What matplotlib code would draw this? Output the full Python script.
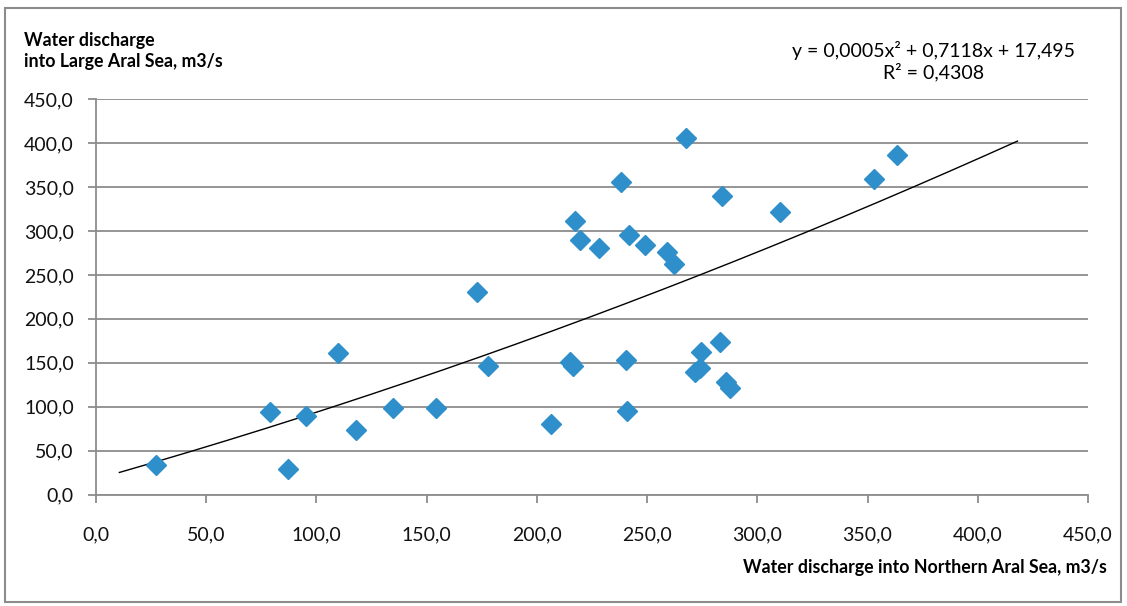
import numpy as np
import matplotlib.pyplot as plt
from matplotlib.patches import Rectangle

plt.rcParams['font.family'] = ['Lato', 'DejaVu Sans']

# discharge into Northern Aral Sea (x) and Large Aral Sea (y), m3/s
north = [27.1, 78.8, 87.0, 95.3, 110.0, 117.8, 134.9, 154.1,
         173.0, 217.3, 219.6, 228.2, 238.2, 242.0, 249.1, 258.9, 262.3, 267.8, 284.0,
         178.0, 206.3, 215.1, 216.6, 240.3, 240.8, 274.4, 271.8, 274.0, 283.1, 285.8, 287.7,
         310.3, 353.1, 363.3]
large = [33.6, 94.3, 28.7, 89.4, 160.8, 73.5, 98.9, 98.9,
         230.3, 311.8, 289.9, 281.1, 355.9, 295.2, 284.2, 276.6, 262.5, 405.7, 340.0,
         146.7, 80.3, 151.3, 146.7, 153.2, 95.5, 162.0, 139.9, 143.7, 173.3, 127.8, 121.0,
         321.4, 359.0, 386.7]

# polynomial trendline as printed on the chart
trend_coef = [0.0005, 0.7118, 17.495]
trend_range = [10.6, 418.0]

ticks = np.arange(0, 451, 50)
tick_labels = ['%.1f' % t for t in ticks]
tick_labels = [t.replace('.', ',') for t in tick_labels]

fig = plt.figure(figsize=(11.27, 6.06), dpi=100)
ax = fig.add_axes([96/1127, 1 - 494.5/606, 992/1127, 395.2/606])

grid_col = '#8c8c8c'
ax.set_xlim(0, 450)
ax.set_ylim(0, 450)
ax.set_yticks(ticks)
ax.set_yticklabels(tick_labels)
ax.set_xticks(ticks)
ax.set_xticklabels(tick_labels)
ax.yaxis.grid(True, color=grid_col, lw=1.3)
ax.set_axisbelow(True)
for s in ['top', 'right']:
    ax.spines[s].set_visible(False)
for s in ['left', 'bottom']:
    ax.spines[s].set_color(grid_col)
    ax.spines[s].set_linewidth(1.3)
ax.tick_params(axis='both', direction='out', length=6, width=1.3, color=grid_col,
               labelsize=14, labelcolor='#111111')
ax.tick_params(axis='x', pad=17)
ax.tick_params(axis='y', pad=10)

xt = np.linspace(trend_range[0], trend_range[1], 200)
ax.plot(xt, np.polyval(trend_coef, xt), color='black', lw=1.0, zorder=3)
ax.plot(north, large, ls='none', marker='D', ms=10, color='#2e8fca', zorder=4,
        clip_on=False)

fig.text(24/1127, 1 - 51/606, 'Water discharge\ninto Large Aral Sea, m3/s',
         fontsize=12.8, fontweight='bold', ha='left', va='center', linespacing=1.3)
fig.text(1107/1127, 1 - 567/606, 'Water discharge into Northern Aral Sea, m3/s',
         fontsize=12.8, fontweight='bold', ha='right', va='center')
fig.text(934/1127, 1 - 61/606, 'y = 0,0005x² + 0,7118x + 17,495\nR² = 0,4308',
         fontsize=14, ha='center', va='center', linespacing=1.2)

fig.patches.append(Rectangle((5/1127, 4/606), 1116/1127, 594/606, transform=fig.transFigure,
                             fill=False, edgecolor='#8c8c8c', lw=1.5))

plt.savefig('out.png', dpi=100)
